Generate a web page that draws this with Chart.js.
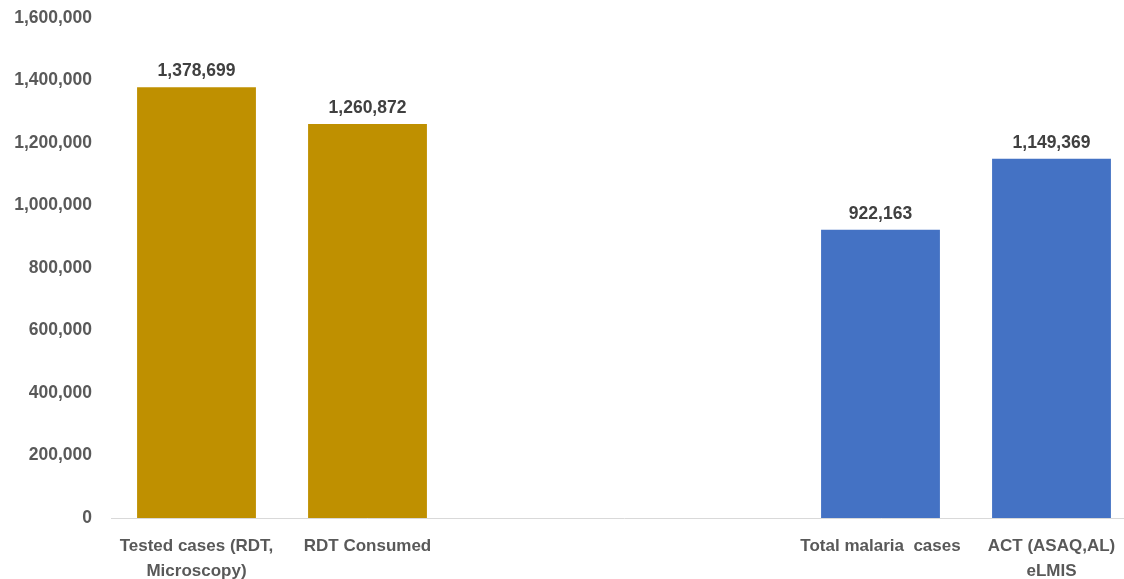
<!DOCTYPE html>
<html>
<head>
<meta charset="utf-8">
<script src="https://cdn.jsdelivr.net/npm/chart.js@4.4.1/dist/chart.umd.min.js"></script>
<style>
  html, body { margin: 0; padding: 0; background: #ffffff; overflow: hidden; }
  #wrap { position: relative; width: 1140px; height: 579px; }
</style>
</head>
<body>
<div id="wrap"><canvas id="chart"></canvas></div>
<script>
// Category labels (multi-line where the label wraps); two empty slots separate the groups
const categories = [
  ['Tested cases (RDT,', 'Microscopy)'],
  'RDT Consumed',
  '',
  '',
  'Total malaria  cases',
  ['ACT (ASAQ,AL)', 'eLMIS']
];
const values = [1378699, 1260872, null, null, 922163, 1149369];
const barColors = ['#BF9000', '#BF9000', '#BF9000', '#4472C4', '#4472C4', '#4472C4'];
const yTicks = [0, 200000, 400000, 600000, 800000, 1000000, 1200000, 1400000, 1600000];

const FONT = "'Liberation Sans', Arial, sans-serif";

// Draws the value above each bar
const valueLabels = {
  id: 'valueLabels',
  afterDatasetsDraw(chart) {
    const ctx = chart.ctx;
    const meta = chart.getDatasetMeta(0);
    ctx.save();
    ctx.font = 'bold 17.5px ' + FONT;
    ctx.fillStyle = '#404040';
    ctx.textAlign = 'center';
    ctx.textBaseline = 'alphabetic';
    meta.data.forEach((bar, i) => {
      const v = values[i];
      if (v === null || v === undefined) return;
      ctx.fillText(v.toLocaleString('en-US'), bar.x, bar.y - 11);
    });
    ctx.restore();
  }
};

new Chart(document.getElementById('chart'), {
  type: 'bar',
  data: {
    labels: categories,
    datasets: [{
      data: values,
      backgroundColor: barColors,
      borderWidth: 0,
      categoryPercentage: 1.0,
      barPercentage: 0.695
    }]
  },
  options: {
    responsive: true,
    maintainAspectRatio: false,
    animation: false,
    layout: { padding: { top: 18, right: 3, bottom: 0, left: 0 } },
    plugins: {
      legend: { display: false },
      tooltip: { enabled: false }
    },
    scales: {
      x: {
        grid: { display: false, drawTicks: false },
        border: { display: true, color: '#d9d9d9', width: 1 },
        ticks: {
          color: '#595959',
          font: { family: FONT, size: 17, weight: 'bold', lineHeight: 1.45 },
          padding: 16,
          maxRotation: 0,
          autoSkip: false
        },
        afterFit(scale) { scale.height = 61; }
      },
      y: {
        min: 0,
        max: 1600000,
        afterBuildTicks(scale) { scale.ticks = yTicks.map(v => ({ value: v })); },
        grid: { display: false, drawTicks: false },
        border: { display: false },
        ticks: {
          color: '#595959',
          font: { family: FONT, size: 17.5, weight: 'bold' },
          padding: 19,
          callback: v => Number(v).toLocaleString('en-US')
        },
        afterFit(scale) {
          scale.width = 111;
          scale.paddingTop = 0;
          scale.paddingBottom = 0;
        }
      }
    }
  },
  plugins: [valueLabels]
});
</script>
</body>
</html>
